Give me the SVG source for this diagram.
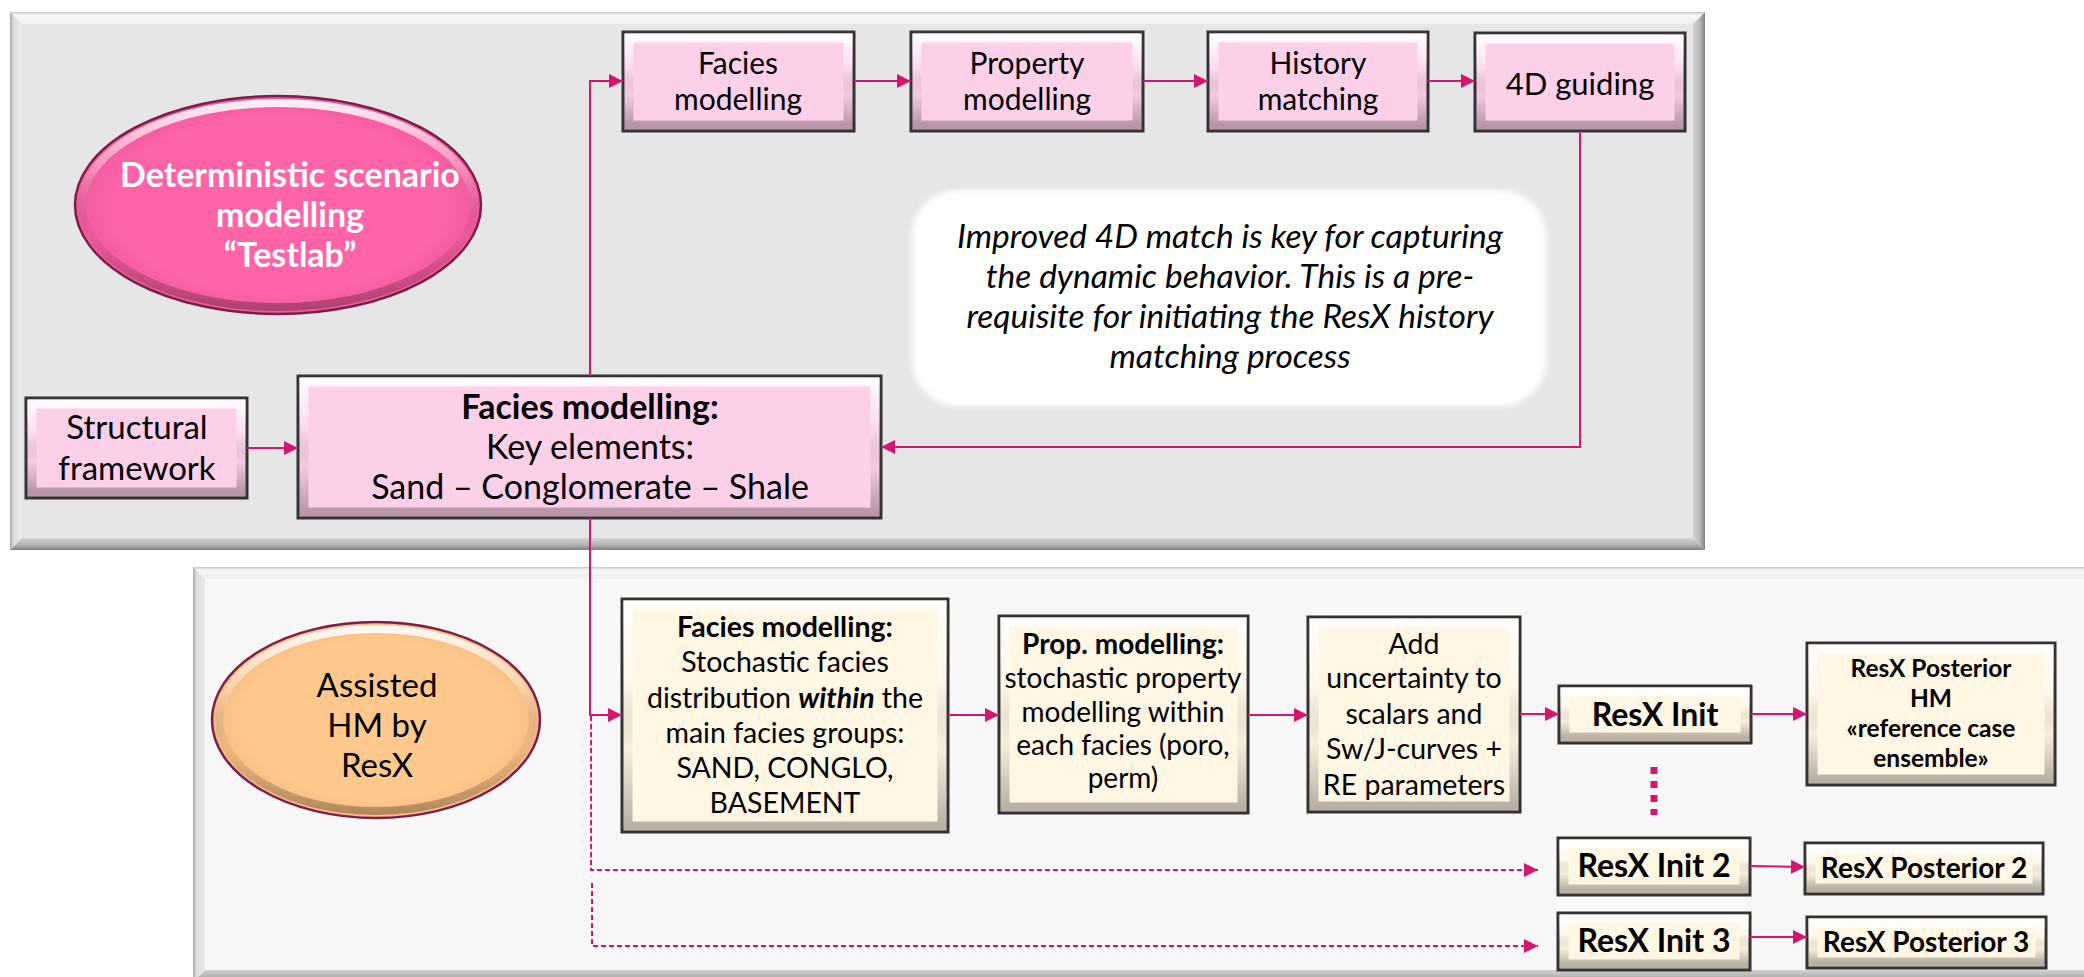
<svg xmlns="http://www.w3.org/2000/svg" width="2084" height="977" viewBox="0 0 2084 977">
<style>
.t{font-family:Lato,'Liberation Sans',sans-serif;fill:#000;text-anchor:middle}
.b{font-weight:700}
.it{font-style:italic}
.pk{fill:#fdd0ea;stroke:#333;stroke-width:3}
.cr{fill:#fff6e3;stroke:#333;stroke-width:3}
.bv{fill:none;stroke:url(#bevel);stroke-width:9}
.cn{fill:none;stroke:#d4166f;stroke-width:2}
.dn{fill:none;stroke:#d4166f;stroke-width:2;stroke-dasharray:5 3}
</style>
<defs>
<linearGradient id="bevel" x1="0" y1="0" x2="0" y2="1">
<stop offset="0" stop-color="#fff" stop-opacity="0.9"/>
<stop offset="0.35" stop-color="#fff" stop-opacity="0.25"/>
<stop offset="0.65" stop-color="#000" stop-opacity="0.03"/>
<stop offset="1" stop-color="#000" stop-opacity="0.28"/>
</linearGradient>
<linearGradient id="bT" x1="0" y1="0" x2="0" y2="1"><stop offset="0" stop-color="#c4c4c4"/><stop offset="0.25" stop-color="#f7f7f7"/><stop offset="1" stop-color="#efefef"/></linearGradient>
<linearGradient id="bL" x1="0" y1="0" x2="1" y2="0"><stop offset="0" stop-color="#a8a8a8"/><stop offset="0.3" stop-color="#dedede"/><stop offset="1" stop-color="#e9e9e9"/></linearGradient>
<linearGradient id="bR" x1="1" y1="0" x2="0" y2="0"><stop offset="0" stop-color="#7f7f7f"/><stop offset="0.4" stop-color="#b5b5b5"/><stop offset="1" stop-color="#d2d2d2"/></linearGradient>
<linearGradient id="bB" x1="0" y1="1" x2="0" y2="0"><stop offset="0" stop-color="#7f7f7f"/><stop offset="0.4" stop-color="#b0b0b0"/><stop offset="1" stop-color="#d4d4d4"/></linearGradient>
<radialGradient id="gPink" cx="0.5" cy="0.5" r="0.5"><stop offset="0.8" stop-color="#ff64a9"/><stop offset="1" stop-color="#f05a9c"/></radialGradient>
<radialGradient id="gOr" cx="0.5" cy="0.5" r="0.5"><stop offset="0.8" stop-color="#ffc98d"/><stop offset="1" stop-color="#f4bb82"/></radialGradient>
<filter id="soft" x="-5%" y="-10%" width="110%" height="120%"><feGaussianBlur stdDeviation="3"/></filter>
<marker id="ah" viewBox="0 0 10 10" refX="10" refY="5" markerWidth="14" markerHeight="14" markerUnits="userSpaceOnUse" orient="auto"><path d="M0,0 L10,5 L0,10 z" fill="#d4166f"/></marker>
</defs>

<g id="panel-top">
<rect x="22" y="24" width="1671" height="514" fill="#e6e6e6"/>
<polygon points="10,12 1705,12 1693,24 22,24" fill="url(#bT)"/>
<polygon points="10,12 22,24 22,538 10,550" fill="url(#bL)"/>
<polygon points="1705,12 1705,550 1693,538 1693,24" fill="url(#bR)"/>
<polygon points="10,550 1705,550 1693,538 22,538" fill="url(#bB)"/>
</g>
<g id="panel-bottom">
<rect x="205" y="579" width="1891" height="391" fill="#f7f7f7"/>
<polygon points="193,567 2096,567 2084,579 205,579" fill="url(#bT)"/>
<polygon points="193,567 205,579 205,970 193,982" fill="url(#bL)"/>
<polygon points="193,982 2096,982 2084,970 205,970" fill="url(#bB)"/>
</g>

<g id="callout">
<rect x="912" y="190" width="634" height="216" rx="46" fill="#fff" filter="url(#soft)"/>
<text class="t it" font-size="33.5"><tspan x="1230" y="248">Improved 4D match is key for capturing</tspan><tspan x="1230" y="288">the dynamic behavior. This is a pre-</tspan><tspan x="1230" y="328">requisite for initiating the ResX history</tspan><tspan x="1230" y="368">matching process</tspan></text>
</g>

<g id="node-deterministic">
<ellipse cx="278" cy="205" rx="203" ry="109" fill="url(#gPink)" stroke="#7d1d4a" stroke-width="2.5"/>
<ellipse cx="278" cy="205" rx="196" ry="102" fill="none" stroke="url(#bevel)" stroke-width="8"/>
<text class="t b" font-size="34" style="fill:#fff"><tspan x="290" y="187">Deterministic scenario</tspan><tspan x="290" y="227">modelling</tspan><tspan x="290" y="267">“Testlab”</tspan></text>
</g>

<g id="node-facies1">
<rect class="pk" x="623" y="32" width="231" height="99"/><rect class="bv" x="629" y="38" width="219" height="87"/>
<text class="t" font-size="30"><tspan x="738" y="74">Facies</tspan><tspan x="738" y="110">modelling</tspan></text>
</g>
<g id="node-property1">
<rect class="pk" x="911" y="32" width="232" height="99"/><rect class="bv" x="917" y="38" width="220" height="87"/>
<text class="t" font-size="30"><tspan x="1027" y="74">Property</tspan><tspan x="1027" y="110">modelling</tspan></text>
</g>
<g id="node-history">
<rect class="pk" x="1208" y="32" width="220" height="99"/><rect class="bv" x="1214" y="38" width="208" height="87"/>
<text class="t" font-size="30"><tspan x="1318" y="74">History</tspan><tspan x="1318" y="110">matching</tspan></text>
</g>
<g id="node-4d">
<rect class="pk" x="1475" y="33" width="210" height="98"/><rect class="bv" x="1481" y="39" width="198" height="86"/>
<text class="t" font-size="31" x="1580" y="95">4D guiding</text>
</g>
<g id="node-structural">
<rect class="pk" x="26" y="398" width="221" height="100"/><rect class="bv" x="32" y="404" width="209" height="88"/>
<text class="t" font-size="33"><tspan x="137" y="439">Structural</tspan><tspan x="137" y="480">framework</tspan></text>
</g>
<g id="node-facies-key">
<rect class="pk" x="298" y="376" width="583" height="142"/><rect class="bv" x="304" y="382" width="571" height="130"/>
<text class="t" font-size="34"><tspan class="b" x="590" y="419">Facies modelling:</tspan><tspan x="590" y="459">Key elements:</tspan><tspan x="590" y="499">Sand – Conglomerate – Shale</tspan></text>
</g>

<g id="node-assisted">
<ellipse cx="376" cy="720" rx="164" ry="98" fill="url(#gOr)" stroke="#7d1d4a" stroke-width="2.5"/>
<ellipse cx="376" cy="720" rx="157" ry="91" fill="none" stroke="url(#bevel)" stroke-width="8"/>
<text class="t" font-size="33"><tspan x="377" y="697">Assisted</tspan><tspan x="377" y="737">HM by</tspan><tspan x="377" y="777">ResX</tspan></text>
</g>

<g id="node-facies-stoch">
<rect class="cr" x="622" y="599" width="326" height="233"/><rect class="bv" x="628" y="605" width="314" height="221"/>
<text class="t" font-size="28.5"><tspan class="b" x="785" y="637">Facies modelling:</tspan><tspan x="785" y="672">Stochastic facies</tspan><tspan x="785" y="708">distribution <tspan class="b it">within</tspan> the</tspan><tspan x="785" y="743">main facies groups:</tspan><tspan x="785" y="778">SAND, CONGLO,</tspan><tspan x="785" y="813">BASEMENT</tspan></text>
</g>
<g id="node-prop-stoch">
<rect class="cr" x="999" y="616" width="249" height="197"/><rect class="bv" x="1005" y="622" width="237" height="185"/>
<text class="t" font-size="28"><tspan class="b" x="1123" y="654">Prop. modelling:</tspan><tspan x="1123" y="688">stochastic property</tspan><tspan x="1123" y="722">modelling within</tspan><tspan x="1123" y="755">each facies (poro,</tspan><tspan x="1123" y="788">perm)</tspan></text>
</g>
<g id="node-uncertainty">
<rect class="cr" x="1308" y="617" width="212" height="195"/><rect class="bv" x="1314" y="623" width="200" height="183"/>
<text class="t" font-size="28.5"><tspan x="1414" y="654">Add</tspan><tspan x="1414" y="688">uncertainty to</tspan><tspan x="1414" y="724">scalars and</tspan><tspan x="1414" y="759">Sw/J-curves +</tspan><tspan x="1414" y="795">RE parameters</tspan></text>
</g>
<g id="node-init1">
<rect class="cr" x="1559" y="686" width="192" height="57"/><rect class="bv" x="1565" y="692" width="180" height="45"/>
<text class="t b" font-size="32" x="1655" y="726">ResX Init</text>
</g>
<g id="node-posterior-hm">
<rect class="cr" x="1807" y="643" width="248" height="142"/><rect class="bv" x="1813" y="649" width="236" height="130"/>
<text class="t b" font-size="24.5"><tspan x="1931" y="677">ResX Posterior</tspan><tspan x="1931" y="707">HM</tspan><tspan x="1931" y="737">«reference case</tspan><tspan x="1931" y="767">ensemble»</tspan></text>
</g>
<g id="node-init2">
<rect class="cr" x="1558" y="838" width="192" height="57"/><rect class="bv" x="1564" y="844" width="180" height="45"/>
<text class="t b" font-size="32" x="1654" y="877">ResX Init 2</text>
</g>
<g id="node-posterior2">
<rect class="cr" x="1805" y="843" width="238" height="51"/><rect class="bv" x="1811" y="849" width="226" height="39"/>
<text class="t b" font-size="28" x="1924" y="878">ResX Posterior 2</text>
</g>
<g id="node-init3">
<rect class="cr" x="1558" y="913" width="192" height="57"/><rect class="bv" x="1564" y="919" width="180" height="45"/>
<text class="t b" font-size="32" x="1654" y="952">ResX Init 3</text>
</g>
<g id="node-posterior3">
<rect class="cr" x="1807" y="917" width="239" height="51"/><rect class="bv" x="1813" y="923" width="227" height="39"/>
<text class="t b" font-size="28" x="1926" y="952">ResX Posterior 3</text>
</g>

<g id="connectors">
<path class="cn" d="M590,376 V81 H623" marker-end="url(#ah)"/>
<path class="cn" d="M854,81 H911" marker-end="url(#ah)"/>
<path class="cn" d="M1143,81 H1208" marker-end="url(#ah)"/>
<path class="cn" d="M1428,81 H1475" marker-end="url(#ah)"/>
<path class="cn" d="M1580,131 V447 H881" marker-end="url(#ah)"/>
<path class="cn" d="M247,448 H298" marker-end="url(#ah)"/>
<path class="cn" d="M590,518 V715 H622" marker-end="url(#ah)"/>
<path class="dn" d="M591,716 V870 H1538" marker-end="url(#ah)"/>
<path class="dn" d="M592,883 V946 H1538" marker-end="url(#ah)"/>
<path class="cn" d="M948,715 H999" marker-end="url(#ah)"/>
<path class="cn" d="M1248,715 H1308" marker-end="url(#ah)"/>
<path class="cn" d="M1520,714 H1559" marker-end="url(#ah)"/>
<path class="cn" d="M1751,714 H1807" marker-end="url(#ah)"/>
<path d="M1654,767 V815" fill="none" stroke="#d4166f" stroke-width="7" stroke-dasharray="7 7"/>
<path class="cn" d="M1750,866 L1805,867" marker-end="url(#ah)"/>
<path class="cn" d="M1750,937 H1807" marker-end="url(#ah)"/>
</g>
</svg>
